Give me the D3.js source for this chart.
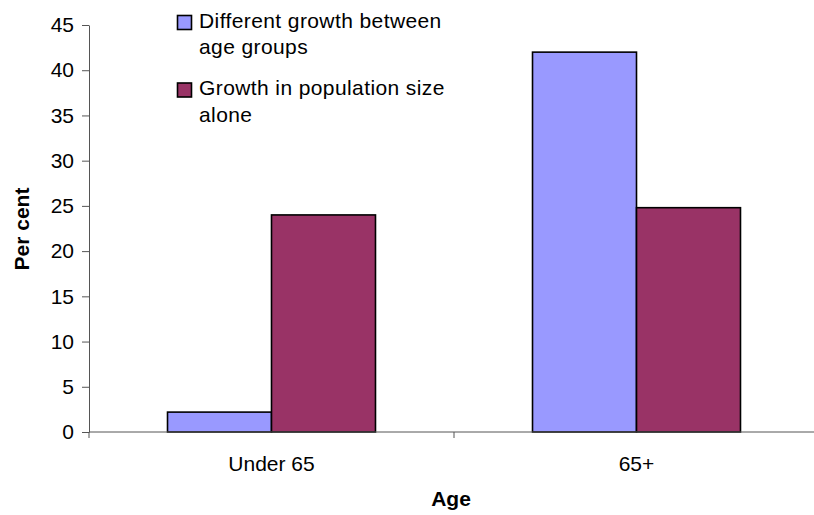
<!DOCTYPE html>
<html>
<head>
<meta charset="utf-8">
<script src="https://cdn.jsdelivr.net/npm/d3@7"></script>
<style>
  html, body { margin: 0; padding: 0; background: #fff; }
  svg { display: block; font-family: "Liberation Sans", Arial, sans-serif; }
</style>
</head>
<body>
<svg id="chart" width="814" height="515"></svg>
<script>
// Age groups along the x axis
const categories = ["Under 65", "65+"];
// Series names (legend text)
const seriesNames = ["Different growth between age groups", "Growth in population size alone"];
// Per cent values per series, in category order
const differentGrowth = [2.2, 42];
const populationGrowth = [24, 24.8];
// Y axis ticks
const yTicks = [0, 5, 10, 15, 20, 25, 30, 35, 40, 45];

const colors = ["#9999ff", "#993366"];
const seriesValues = [differentGrowth, populationGrowth];
const fontSize = 21;

const svg = d3.select("#chart");
const plotLeft = 89, plotRight = 819, plotTop = 25, plotBottom = 432;

const y = d3.scaleLinear().domain([0, 45]).range([plotBottom, plotTop]);
const x = d3.scaleBand().domain(categories).range([plotLeft, plotRight]).padding(0);
const xInner = d3.scaleBand().domain(d3.range(seriesNames.length))
  .range([0, x.bandwidth()]).paddingInner(0).paddingOuter(0.755);

// Bars
categories.forEach((cat, ci) => {
  const g = svg.append("g").attr("transform", `translate(${x(cat)},0)`);
  seriesValues.forEach((vals, si) => {
    g.append("rect")
      .attr("x", xInner(si))
      .attr("y", y(vals[ci]))
      .attr("width", xInner.bandwidth())
      .attr("height", y(0) - y(vals[ci]))
      .attr("fill", colors[si])
      .attr("stroke", "#000")
      .attr("stroke-width", 1.6);
  });
});

// Y axis
const yAxis = svg.append("g")
  .attr("transform", `translate(${plotLeft},0)`)
  .call(d3.axisLeft(y).tickValues(yTicks).tickSize(7).tickPadding(8).tickSizeOuter(0));
yAxis.select(".domain").attr("stroke", "#555");
yAxis.selectAll(".tick line").attr("stroke", "#555");
yAxis.selectAll(".tick text").attr("font-size", fontSize).attr("fill", "#000")
  .attr("font-family", "Liberation Sans, Arial, sans-serif");

// X axis line with ticks at category boundaries
const xAxisG = svg.append("g");
xAxisG.append("line")
  .attr("x1", plotLeft).attr("x2", plotRight)
  .attr("y1", y(0)).attr("y2", y(0))
  .attr("stroke", "#555");
const boundaries = categories.map(c => x(c)).concat([x(categories[categories.length - 1]) + x.bandwidth()]);
xAxisG.selectAll("line.tk").data(boundaries).enter().append("line")
  .attr("class", "tk")
  .attr("x1", d => d).attr("x2", d => d)
  .attr("y1", y(0)).attr("y2", y(0) + 6)
  .attr("stroke", "#555");
xAxisG.selectAll("text").data(categories).enter().append("text")
  .attr("x", d => x(d) + x.bandwidth() / 2)
  .attr("y", 471)
  .attr("text-anchor", "middle")
  .attr("font-size", fontSize)
  .text(d => d);

// Axis titles
svg.append("text")
  .attr("x", 451).attr("y", 506)
  .attr("text-anchor", "middle")
  .attr("font-size", fontSize).attr("font-weight", "bold")
  .text("Age");
svg.append("text")
  .attr("transform", "translate(29,229) rotate(-90)")
  .attr("text-anchor", "middle")
  .attr("font-size", fontSize).attr("font-weight", "bold")
  .text("Per cent");

// Legend
const legendLines = [["Different growth between", "age groups"], ["Growth in population size", "alone"]];
const legendTops = [15.5, 83];
legendLines.forEach((lines, i) => {
  const g = svg.append("g");
  g.append("rect")
    .attr("x", 177.5).attr("y", legendTops[i])
    .attr("width", 14).attr("height", 14)
    .attr("fill", colors[i]).attr("stroke", "#000").attr("stroke-width", 1.6);
  lines.forEach((t, li) => {
    g.append("text")
      .attr("x", 199).attr("y", legendTops[i] + 12.2 + li * 26.5)
      .attr("font-size", fontSize)
      .attr("letter-spacing", 0.4)
      .text(t);
  });
});
</script>
</body>
</html>
